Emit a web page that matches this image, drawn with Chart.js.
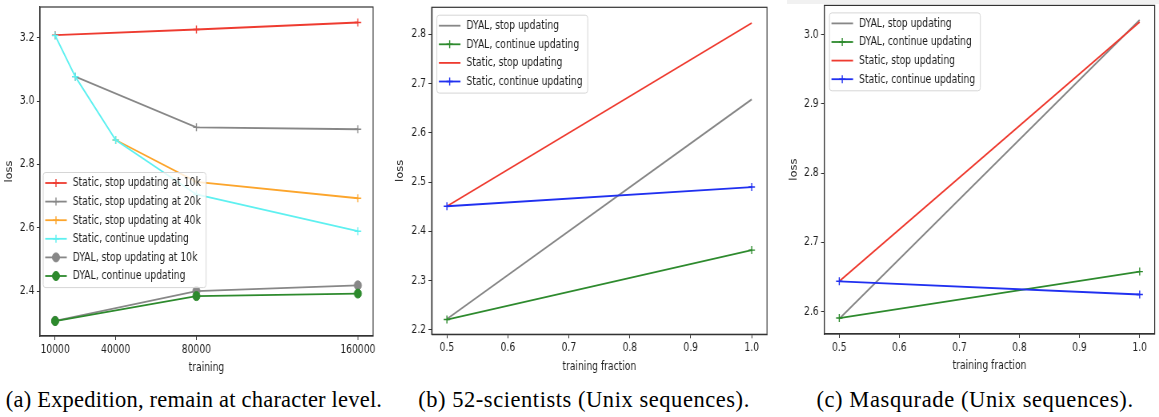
<!DOCTYPE html>
<html>
<head>
<meta charset="utf-8">
<script src="https://cdn.jsdelivr.net/npm/chart.js@4.4.1/dist/chart.umd.min.js"></script>
<style>
  body { margin: 0; background: #fff; width: 1159px; height: 417px; position: relative; overflow: hidden; }
  .panel { position: absolute; top: 0; height: 380px; transform: scaleX(0.8); transform-origin: 0 0; }
  .cap { position: absolute; top: 387px; font-family: "Liberation Serif", "Times New Roman", serif; font-size: 22.5px; line-height: 26px; text-align: center; color: #000; white-space: nowrap; }
  .band { position: absolute; left: 787px; top: 0; width: 372px; height: 4px; background: #f1f1f1; }
</style>
</head>
<body>
<div class="band"></div>
<div class="panel" style="left:0px;width:488px"><canvas id="chartA" width="488" height="380"></canvas></div>
<div class="panel" style="left:390px;width:481px"><canvas id="chartB" width="481" height="380"></canvas></div>
<div class="panel" style="left:775px;width:480px"><canvas id="chartC" width="480" height="380"></canvas></div>
<div class="cap" style="left:-2px;width:392px;letter-spacing:0.2px">(a) Expedition, remain at character level.</div>
<div class="cap" style="left:414px;width:340px;letter-spacing:0.55px">(b) 52-scientists (Unix sequences).</div>
<div class="cap" style="left:813px;width:324px;letter-spacing:0.6px">(c) Masqurade (Unix sequences).</div>

<script>
// (a) Expedition – loss vs. number of training characters
const xTicksA = [10000, 40000, 80000, 160000];
const yTicksA = [2.4, 2.6, 2.8, 3.0, 3.2];
const xStop10k = [10000, 80000, 160000];
const lossStaticStop10k = [3.208, 3.226, 3.248];
const xStop20k = [20000, 80000, 160000];
const lossStaticStop20k = [3.077, 2.917, 2.911];
const xStop40k = [40000, 80000, 160000];
const lossStaticStop40k = [2.877, 2.745, 2.693];
const xContinue = [10000, 20000, 40000, 80000, 160000];
const lossStaticContinue = [3.207, 3.077, 2.877, 2.705, 2.589];
const xDyal = [10000, 80000, 160000];
const lossDyalStop10k = [2.306, 2.400, 2.418];
const lossDyalContinue = [2.305, 2.384, 2.392];

// (b) 52-scientists and (c) Masqurade – loss vs. training fraction
const fractions = [0.5, 1.0];
const fracTicks = [0.5, 0.6, 0.7, 0.8, 0.9, 1.0];
const yTicksB = [2.2, 2.3, 2.4, 2.5, 2.6, 2.7, 2.8];
const sciDyalStop = [2.222, 2.668];
const sciDyalCont = [2.221, 2.362];
const sciStaticStop = [2.451, 2.823];
const sciStaticCont = [2.451, 2.490];
const yTicksC = [2.6, 2.7, 2.8, 2.9, 3.0];
const masDyalStop = [2.590, 3.021];
const masDyalCont = [2.591, 2.658];
const masStaticStop = [2.644, 3.018];
const masStaticCont = [2.644, 2.625];

const RED = '#ee3b30', GRAY = '#878787', ORANGE = '#fca52c', CYAN = '#5ef0f0', GREEN = '#2d8a2d', BLUE = '#2030f0';
const INK = '#1e1e1e';
const FONT = '"DejaVu Sans", sans-serif';

Chart.defaults.font.family = FONT;
Chart.defaults.font.size = 11.5;
Chart.defaults.color = INK;

function series(label, xs, ys, color, marker) {
  return {
    label,
    data: xs.map((x, i) => ({ x, y: ys[i] })),
    borderColor: color,
    backgroundColor: color,
    borderWidth: 1.8,
    pointStyle: marker || false,
    pointRadius: marker === 'circle' ? 4.5 : (marker ? 4 : 0),
    pointBorderWidth: marker === 'circle' ? 1 : 1.4,
    marker: marker,
    tension: 0
  };
}

// legend box drawn inside the axes, matplotlib style
const boxLegend = {
  id: 'boxLegend',
  afterDraw(chart, args, opts) {
    const { ctx, chartArea } = chart;
    const sets = chart.data.datasets;
    const rowH = 18.6;
    ctx.save();
    ctx.font = '11.5px ' + FONT;
    const textW = Math.max(...sets.map(d => ctx.measureText(d.label).width));
    const x0 = chartArea.left + opts.x, y0 = chartArea.top + opts.y;
    const w = 37.5 + textW + 6, h = sets.length * rowH + 3.5;
    ctx.beginPath();
    ctx.roundRect(x0 + 0.5, y0 + 0.5, w, h, 3);
    ctx.fillStyle = 'rgba(255,255,255,0.8)';
    ctx.fill();
    ctx.strokeStyle = '#d6d6d6';
    ctx.lineWidth = 1;
    ctx.stroke();
    sets.forEach((d, i) => {
      const cy = y0 + 11 + i * rowH;
      ctx.strokeStyle = d.borderColor;
      ctx.fillStyle = d.borderColor;
      ctx.lineWidth = d.borderWidth;
      ctx.beginPath();
      ctx.moveTo(x0 + 3, cy);
      ctx.lineTo(x0 + 30, cy);
      ctx.stroke();
      if (d.marker) {
        ctx.lineWidth = d.pointBorderWidth;
        Chart.helpers.drawPoint(ctx, { pointStyle: d.marker, radius: d.pointRadius, borderWidth: d.pointBorderWidth, rotation: 0 }, x0 + 16.5, cy);
      }
      ctx.fillStyle = INK;
      ctx.textBaseline = 'middle';
      ctx.textAlign = 'left';
      ctx.fillText(d.label, x0 + 37.5, cy + 0.5);
    });
    ctx.restore();
  }
};

// top and right spines
const frame = {
  id: 'frame',
  afterDatasetsDraw(chart) {
    const { ctx, chartArea: a } = chart;
    ctx.save();
    ctx.strokeStyle = '#333';
    ctx.lineWidth = 1.2;
    ctx.strokeRect(a.left, a.top, a.right - a.left, a.bottom - a.top);
    ctx.restore();
  }
};

function makePanel(id, p) {
  const axisBits = {
    grid: { display: true, drawOnChartArea: false, drawTicks: true, tickLength: 4, color: '#333', tickWidth: 1 },
    border: { display: true, color: '#333', width: 1.2 }
  };
  p.datasets.forEach((d, i) => { d.order = -i; });
  return new Chart(document.getElementById(id), {
    type: 'line',
    data: { datasets: p.datasets },
    options: {
      responsive: false,
      animation: false,
      layout: { padding: { left: p.padLeft, right: p.padRight, top: p.padTop, bottom: p.padBottom } },
      plugins: { legend: { display: false }, tooltip: { enabled: false }, boxLegend: p.legend },
      scales: {
        x: {
          type: 'linear', min: p.xMin, max: p.xMax,
          afterBuildTicks: s => { s.ticks = p.xTicks.map(v => ({ value: v })); },
          afterFit: s => { s.height = p.xHeight; s.paddingLeft = 0; s.paddingRight = 0; },
          ticks: { callback: p.xFmt, padding: 3, maxRotation: 0, autoSkip: false, color: INK },
          title: { display: true, text: p.xLabel, padding: 0, font: { size: 11.5, lineHeight: 1.2 }, color: INK },
          ...axisBits
        },
        y: {
          type: 'linear', min: p.yMin, max: p.yMax,
          afterBuildTicks: s => { s.ticks = p.yTicks.map(v => ({ value: v })); },
          afterFit: s => { s.width = p.yWidth; s.paddingTop = 0; s.paddingBottom = 0; },
          ticks: { callback: v => v.toFixed(1), padding: 3, autoSkip: false, color: INK },
          title: { display: true, text: 'loss', padding: 0, font: { size: 11.5, lineHeight: 1.2 }, color: INK },
          ...axisBits
        }
      }
    },
    plugins: [frame, boxLegend]
  });
}

makePanel('chartA', {
  padLeft: 5.6, yWidth: 44.4, padRight: 21.75, padTop: 7, xHeight: 38.9, padBottom: 5.1,
  xMin: 2500, xMax: 167500, xTicks: xTicksA, xFmt: v => String(v), xLabel: 'training',
  yMin: 2.258, yMax: 3.297, yTicks: yTicksA,
  legend: { x: 3.5, y: 165 },
  datasets: [
    series('Static, stop updating at 10k', xStop10k, lossStaticStop10k, RED, 'cross'),
    series('Static, stop updating at 20k', xStop20k, lossStaticStop20k, GRAY, 'cross'),
    series('Static, stop updating at 40k', xStop40k, lossStaticStop40k, ORANGE, 'cross'),
    series('Static, continue updating', xContinue, lossStaticContinue, CYAN, 'cross'),
    series('DYAL, stop updating at 10k', xDyal, lossDyalStop10k, GRAY, 'circle'),
    series('DYAL, continue updating', xDyal, lossDyalContinue, GREEN, 'circle')
  ]
});

makePanel('chartB', {
  padLeft: 6.5, yWidth: 45.6, padRight: 9.75, padTop: 7.3, xHeight: 39.3, padBottom: 6.4,
  xMin: 0.475, xMax: 1.025, xTicks: fracTicks, xFmt: v => v.toFixed(1), xLabel: 'training fraction',
  yMin: 2.191, yMax: 2.855, yTicks: yTicksB,
  legend: { x: 6, y: 7.4 },
  datasets: [
    series('DYAL, stop updating', fractions, sciDyalStop, GRAY, null),
    series('DYAL, continue updating', fractions, sciDyalCont, GREEN, 'cross'),
    series('Static, stop updating', fractions, sciStaticStop, RED, null),
    series('Static, continue updating', fractions, sciStaticCont, BLUE, 'cross')
  ]
});

makePanel('chartC', {
  padLeft: 16.9, yWidth: 44.7, padRight: 1.5, padTop: 5, xHeight: 38.6, padBottom: 7.4,
  xMin: 0.475, xMax: 1.025, xTicks: fracTicks, xFmt: v => v.toFixed(1), xLabel: 'training fraction',
  yMin: 2.568, yMax: 3.042, yTicks: yTicksC,
  legend: { x: 6, y: 7 },
  datasets: [
    series('DYAL, stop updating', fractions, masDyalStop, GRAY, null),
    series('DYAL, continue updating', fractions, masDyalCont, GREEN, 'cross'),
    series('Static, stop updating', fractions, masStaticStop, RED, null),
    series('Static, continue updating', fractions, masStaticCont, BLUE, 'cross')
  ]
});
</script>
</body>
</html>
